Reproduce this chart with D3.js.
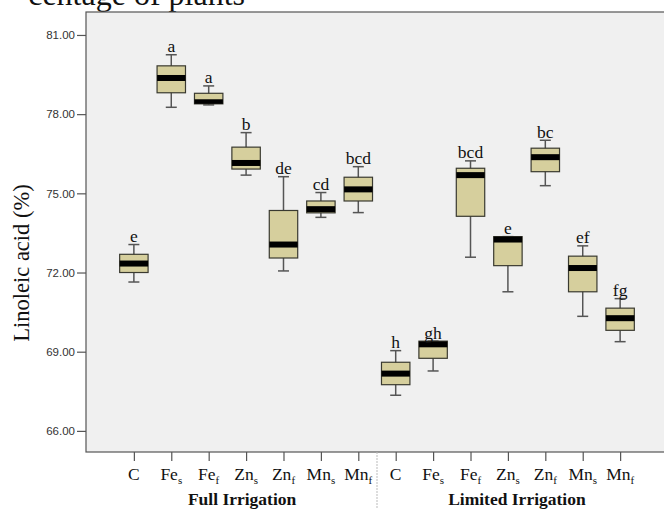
<!DOCTYPE html>
<html>
<head>
<meta charset="utf-8">
<script src="https://cdn.jsdelivr.net/npm/d3@7/dist/d3.min.js"></script>
<style>
  body { margin: 0; background: #fff; }
  svg { display: block; }
</style>
</head>
<body>
<script>
// groups and treatments (subscript after "_")
const groups = ['Full Irrigation', 'Limited Irrigation'];
const treatments = ['C', 'Fe_s', 'Fe_f', 'Zn_s', 'Zn_f', 'Mn_s', 'Mn_f'];

// box statistics, full irrigation first then limited irrigation
const lowerWhisker = [71.64, 78.26, 78.35, 75.69, 72.06, 74.09, 74.27,
                      67.35, 68.27, 72.58, 71.27, 75.29, 70.34, 69.38];
const q1 = [72.00, 78.81, 78.39, 75.92, 72.55, 74.26, 74.71,
            67.75, 68.75, 74.13, 72.26, 75.82, 71.27, 69.81];
const medians = [72.34, 79.37, 78.45, 76.15, 73.06, 74.40, 75.15,
                 68.17, 69.28, 75.69, 73.25, 76.37, 72.17, 70.27];
const q3 = [72.69, 79.83, 78.79, 76.75, 74.35, 74.71, 75.61,
            68.60, 69.40, 75.95, 73.36, 76.71, 72.62, 70.65];
const upperWhisker = [73.06, 80.25, 79.07, 77.30, 75.63, 75.03, 76.01,
                      69.04, 69.40, 76.23, 73.36, 77.01, 73.01, 71.01];
const letters = ['e', 'a', 'a', 'b', 'de', 'cd', 'bcd',
                 'h', 'gh', 'bcd', 'e', 'bc', 'ef', 'fg'];

const yTicks = [66, 69, 72, 75, 78, 81];

const width = 664, height = 509;
const plot = {left: 86, top: 12, right: 668, bottom: 452};

const svg = d3.select('body').append('svg')
    .attr('width', width)
    .attr('height', height);

const keys = [];
groups.forEach((g, gi) => treatments.forEach(t => keys.push(gi + '|' + t)));

const boxes = keys.map((k, i) => ({
    key: k,
    treatment: k.split('|')[1],
    lo: lowerWhisker[i], q1: q1[i], med: medians[i], q3: q3[i], hi: upperWhisker[i],
    letter: letters[i]
}));

const x = d3.scalePoint()
    .domain(keys)
    .range([plot.left, plot.right])
    .padding(1.28);

const y = d3.scaleLinear()
    .domain([65.2, 81.87])
    .range([plot.bottom, plot.top]);

const boxW = x.step() * 0.76;
const capW = 11;

// top-left fragment of the page text (cropped in the original too)
svg.append('text')
    .attr('x', 245).attr('y', 5)
    .attr('text-anchor', 'end')
    .style('font-family', '"Liberation Serif", "Times New Roman", serif')
    .style('font-size', '32px')
    .attr('fill', '#111')
    .text('centage of plants');

// plot background
svg.append('rect')
    .attr('x', plot.left).attr('y', plot.top)
    .attr('width', plot.right - plot.left)
    .attr('height', plot.bottom - plot.top)
    .attr('fill', '#f0f0f0')
    .attr('stroke', '#555')
    .attr('stroke-width', 1.2);

// y axis
const yAxis = svg.append('g')
    .attr('transform', `translate(${plot.left},0)`)
    .call(d3.axisLeft(y).tickValues(yTicks).tickFormat(d3.format('.2f')).tickSize(9).tickPadding(2));
yAxis.select('.domain').remove();
yAxis.selectAll('line').attr('stroke', '#555').attr('stroke-width', 1.2);
yAxis.selectAll('text')
    .attr('fill', '#333')
    .style('font-family', '"Liberation Sans", Arial, sans-serif')
    .style('font-size', '11.5px');

svg.append('text')
    .attr('transform', 'translate(29,263) rotate(-90)')
    .attr('text-anchor', 'middle')
    .style('font-family', '"Liberation Serif", "Times New Roman", serif')
    .style('font-size', '22.5px')
    .attr('fill', '#111')
    .text('Linoleic acid (%)');

// x axis ticks
const xAxis = svg.append('g')
    .attr('transform', `translate(0,${plot.bottom})`)
    .call(d3.axisBottom(x).tickSize(9).tickFormat(''));
xAxis.select('.domain').remove();
xAxis.selectAll('line').attr('stroke', '#555').attr('stroke-width', 1.2);

// category labels with subscripts
const catLabels = svg.append('g')
    .selectAll('text')
    .data(boxes)
    .join('text')
    .attr('x', d => x(d.key))
    .attr('y', 480)
    .attr('text-anchor', 'middle')
    .style('font-family', '"Liberation Serif", "Times New Roman", serif')
    .style('font-size', '17.5px')
    .attr('fill', '#111');
catLabels.each(function (d) {
    const parts = d.treatment.split('_');
    const t = d3.select(this);
    t.append('tspan').text(parts[0]);
    if (parts[1]) {
        t.append('tspan')
            .attr('dy', 4)
            .style('font-size', '11px')
            .text(parts[1]);
    }
});

// separator between the two groups
const sepX = (x(keys[6]) + x(keys[7])) / 2;
svg.append('line')
    .attr('x1', sepX).attr('x2', sepX)
    .attr('y1', plot.bottom).attr('y2', height)
    .attr('stroke', '#bbb')
    .attr('stroke-width', 1)
    .attr('stroke-dasharray', '2,1');

// group labels
const groupOffset = [-4, 9];
svg.append('g')
    .selectAll('text')
    .data(groups)
    .join('text')
    .attr('x', (g, gi) => d3.mean(treatments, t => x(gi + '|' + t)) + groupOffset[gi])
    .attr('y', 505)
    .attr('text-anchor', 'middle')
    .style('font-family', '"Liberation Serif", "Times New Roman", serif')
    .style('font-size', '17.5px')
    .style('font-weight', 'bold')
    .attr('fill', '#111')
    .text(d => d);

// boxes
const bg = svg.append('g')
    .selectAll('g')
    .data(boxes)
    .join('g');

bg.append('line')
    .attr('x1', d => x(d.key)).attr('x2', d => x(d.key))
    .attr('y1', d => y(d.hi)).attr('y2', d => y(d.lo))
    .attr('stroke', '#555').attr('stroke-width', 1.5);

bg.selectAll('line.cap')
    .data(d => [{k: d.key, v: d.hi}, {k: d.key, v: d.lo}])
    .join('line')
    .attr('class', 'cap')
    .attr('x1', d => x(d.k) - capW / 2).attr('x2', d => x(d.k) + capW / 2)
    .attr('y1', d => y(d.v)).attr('y2', d => y(d.v))
    .attr('stroke', '#555').attr('stroke-width', 1.5);

bg.append('rect')
    .attr('x', d => x(d.key) - boxW / 2)
    .attr('y', d => y(d.q3))
    .attr('width', boxW)
    .attr('height', d => y(d.q1) - y(d.q3))
    .attr('fill', '#d6cf9d')
    .attr('stroke', '#3a3a30')
    .attr('stroke-width', 1.2);

// thick median band, kept inside the box
bg.append('rect')
    .attr('x', d => x(d.key) - boxW / 2)
    .attr('y', d => Math.max(y(d.med) - 3, y(d.q3)))
    .attr('width', boxW)
    .attr('height', d => Math.min(y(d.med) + 3, y(d.q1)) - Math.max(y(d.med) - 3, y(d.q3)))
    .attr('fill', '#000');

bg.append('text')
    .attr('x', d => x(d.key))
    .attr('y', d => y(d.hi) - 2.5)
    .attr('text-anchor', 'middle')
    .style('font-family', '"Liberation Serif", "Times New Roman", serif')
    .style('font-size', '17.5px')
    .attr('fill', '#111')
    .text(d => d.letter);
</script>
</body>
</html>
